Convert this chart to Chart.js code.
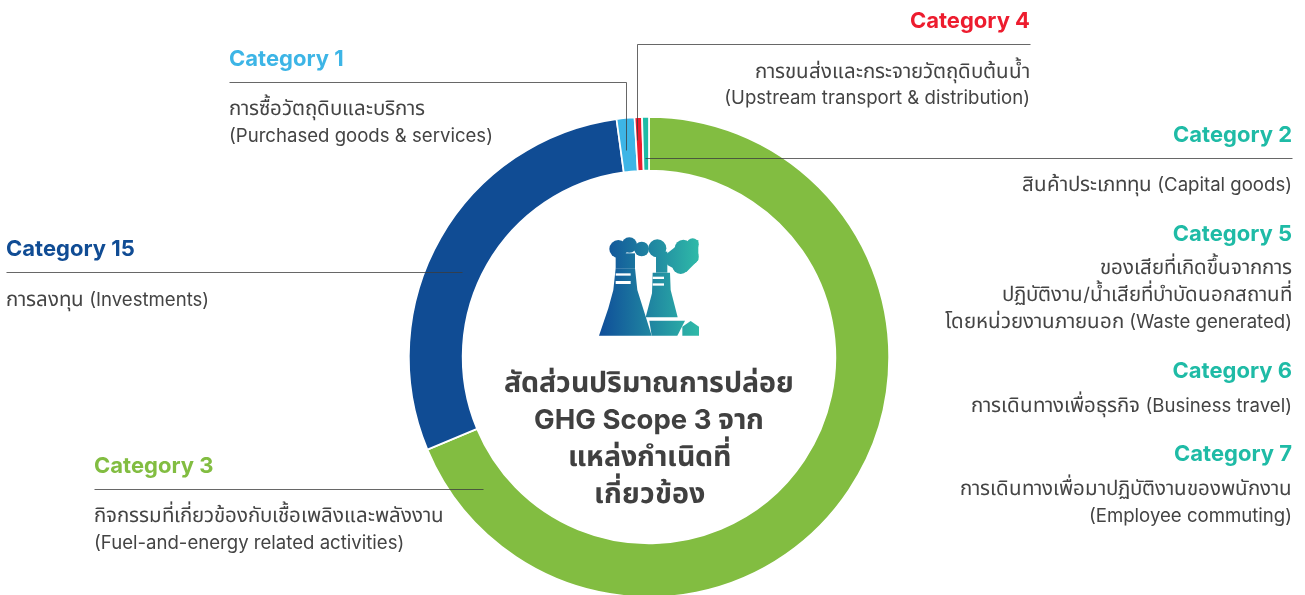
<!DOCTYPE html>
<html><head><meta charset="utf-8">
<script src="https://cdn.jsdelivr.net/npm/chart.js@4"></script>
<style>
@font-face{font-family:"ThaiR";src:local("Noto Sans Thai"),local("Noto Sans Thai Regular"),local("NotoSansThai-Regular"),local("Noto Sans Thai Looped");size-adjust:110%;unicode-range:U+0E00-0E7F;font-weight:400}
@font-face{font-family:"ThaiB";src:local("Noto Sans Thai Bold"),local("NotoSansThai-Bold"),local("Noto Sans Thai");size-adjust:104%;unicode-range:U+0E00-0E7F;font-weight:700}
html,body{margin:0;padding:0;background:#fff;overflow:hidden;width:1305px;height:595px}
#w{position:absolute;left:0;top:0;width:1305px;height:714px}</style></head>
<body><div id="w"><canvas id="c" width="1305" height="714"></canvas></div>
<script>
const categories = ["Category 3","Category 15","Category 1","Category 4","Category 2, 5, 6, 7"];
const shares = [68.7, 29.14, 1.2, 0.5, 0.46];
const sliceColors = ["#82bd41","#104c94","#3db5e6","#ed1c2e","#1fbba6"];
const heads = [
 ["Category 1",229,59,"left","#3db5e6"],["Category 4",1030,21,"right","#ed1c2e"],
 ["Category 2",1292,135,"right","#1fbba6"],["Category 5",1292,234,"right","#1fbba6"],
 ["Category 6",1292,371,"right","#1fbba6"],["Category 7",1292,454,"right","#1fbba6"],
 ["Category 15",6,249,"left","#104c94"],["Category 3",94,466,"left","#82bd41"]];
const bodies = [
 ["การซื้อวัตถุดิบและบริการ",229,109,"left"],["(Purchased goods & services)",229,136,"left"],
 ["การขนส่งและกระจายวัตถุดิบต้นน้ำ",1030,72,"right"],["(Upstream transport & distribution)",1030,98,"right"],
 ["สินค้าประเภททุน (Capital goods)",1292,185,"right"],
 ["ของเสียที่เกิดขึ้นจากการ",1292,268,"right"],["ปฏิบัติงาน/น้ำเสียที่บำบัดนอกสถานที่",1292,295,"right"],["โดยหน่วยงานภายนอก (Waste generated)",1292,322,"right"],
 ["การเดินทางเพื่อธุรกิจ (Business travel)",1292,406,"right"],
 ["การเดินทางเพื่อมาปฏิบัติงานของพนักงาน",1292,489,"right"],["(Employee commuting)",1292,516,"right"],
 ["การลงทุน (Investments)",6,300,"left"],
 ["กิจกรรมที่เกี่ยวข้องกับเชื้อเพลิงและพลังงาน",94,516,"left"],["(Fuel-and-energy related activities)",94,543,"left"]];
const centerLines = ["สัดส่วนปริมาณการปล่อย","GHG Scope 3 จาก","แหล่งกำเนิดที่","เกี่ยวข้อง"];
const leaders = [
 [[229,82],[626,82],[626,150]],[[1030,44],[637,44],[637,140]],
 [[1292,158],[645,158]],[[6,272],[462,272]],[[94,489],[483,489]]];
const Z=(a,b)=>[580+a/3,225+b/3];
function poly(x,pts){x.beginPath();pts.forEach((p,i)=>{const q=Z(p[0],p[1]);i?x.lineTo(q[0],q[1]):x.moveTo(q[0],q[1]);});x.closePath();x.fill();}
function blobs(x,cs){cs.forEach(c=>{const q=Z(c[0],c[1]);x.beginPath();x.arc(q[0],q[1],c[2]/3,0,7);x.fill();});}
const overlay = {id:"overlay",afterDraw(ch){
 const x=ch.ctx; x.save();
 x.strokeStyle="rgba(60,60,60,.78)";x.lineWidth=1;
 leaders.forEach(p=>{x.beginPath();p.forEach((q,i)=>i?x.lineTo(q[0]+.5,q[1]+.5):x.moveTo(q[0]+.5,q[1]+.5));x.stroke();});
 x.textBaseline="middle";
 x.font="700 22px Inter,ThaiB,sans-serif";
 heads.forEach(h=>{x.textAlign=h[3];x.fillStyle=h[4];x.fillText(h[0],h[1],h[2]);});
 x.font="400 18.6px Inter,ThaiR,sans-serif";x.fillStyle="#444";
 bodies.forEach(b=>{x.textAlign=b[3];x.fillText(b[0],b[1],b[2]);});
 x.font="700 27.5px Inter,ThaiB,sans-serif";x.fillStyle="#404040";x.textAlign="center";
 centerLines.forEach((t,i)=>x.fillText(t,649,384+i*37));
 const g=x.createLinearGradient(599,0,699,0);g.addColorStop(0,"#0f4d99");g.addColorStop(1,"#2fbaa8");
 x.fillStyle=g;
 poly(x,[[57,332],[85,250],[100,195],[107,130],[165,130],[172,195],[215,332]]);
 poly(x,[[197,277],[216,205],[218,143],[270,143],[272,195],[293,277]]);
 poly(x,[[208,287],[315,287],[292,332],[215,332]]);
 poly(x,[[307,332],[307,305],[332,288],[357,305],[357,332]]);
 blobs(x,[[115,72,27],[148,60,23],[185,72,22],[232,70,27]]);
 poly(x,[[107,85],[165,85],[165,130],[107,130]]);
 poly(x,[[228,143],[228,80],[262,80],[262,143]]);
 poly(x,[[255,90],[300,55],[355,45],[355,105],[320,140],[290,135],[262,120]]);
 blobs(x,[[310,70,26],[338,58,18],[302,122,25],[332,95,24]]);
 x.fillStyle="#fff";
 poly(x,[[107,145],[152,145],[152,152],[107,152]]);
 poly(x,[[107,168],[152,168],[152,177],[107,177]]);
 poly(x,[[218,155],[252,155],[252,162],[218,162]]);
 poly(x,[[218,175],[252,175],[252,182],[218,182]]);
 x.restore();}};
function draw(){new Chart(document.getElementById("c"),{type:"doughnut",
 data:{labels:categories,datasets:[{data:shares,backgroundColor:sliceColors,borderColor:"#fff",borderWidth:1.7,borderAlign:"center"}]},
 options:{responsive:false,animation:false,cutout:"77.6%",rotation:0,
  layout:{padding:{left:408,right:415,top:116,bottom:116}},
  plugins:{legend:{display:false},tooltip:{enabled:false}}},
 plugins:[overlay]});}
Promise.all([document.fonts.load("400 18px ThaiR","ก"),document.fonts.load("700 18px ThaiB","ก")]).catch(()=>{}).then(draw);
</script></body></html>
